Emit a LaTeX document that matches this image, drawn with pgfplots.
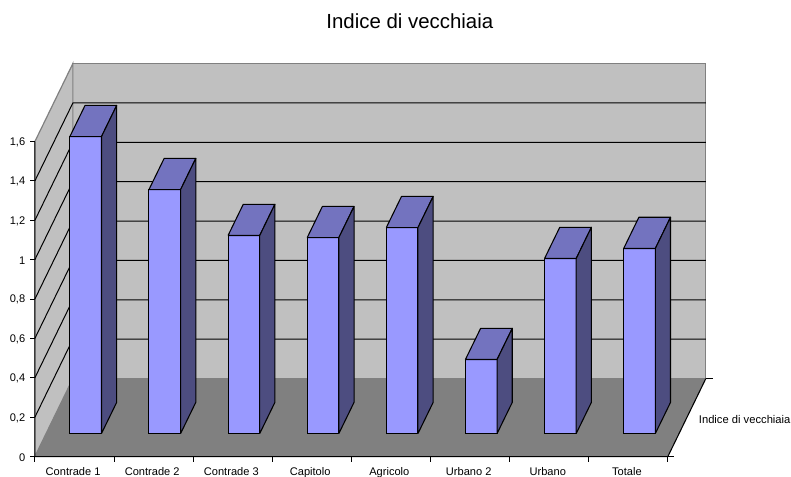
\documentclass[border=0pt]{standalone}
\usepackage{pgfplots}
\pgfplotsset{compat=1.18}
\usepackage{fontspec}
\setmainfont{Liberation Sans}
\definecolor{barfront}{HTML}{9999FF}
\definecolor{bartop}{HTML}{7373BF}
\definecolor{barside}{HTML}{4D4D80}
\definecolor{wall}{HTML}{C0C0C0}
\definecolor{floorc}{HTML}{808080}
% x0, x1, value
\newcommand{\barbox}[3]{%
  \addplot3[draw=black,line width=0.8pt,fill=barfront,line join=round] coordinates {(#1,0.295,0) (#2,0.295,0) (#2,0.295,#3) (#1,0.295,#3) (#1,0.295,0)};
  \addplot3[draw=black,line width=0.8pt,fill=bartop,line join=round] coordinates {(#1,0.295,#3) (#2,0.295,#3) (#2,0.695,#3) (#1,0.695,#3) (#1,0.295,#3)};
  \addplot3[draw=black,line width=0.8pt,fill=barside,line join=round] coordinates {(#2,0.295,0) (#2,0.695,0) (#2,0.695,#3) (#2,0.295,#3) (#2,0.295,0)};
}
\begin{document}
\begin{tikzpicture}[x=0.75pt,y=0.75pt]
\path[use as bounding box] (0,0) rectangle (791,477);
\begin{axis}[
  at={(31.5,26.2)},anchor=origin,
  x={(59.34pt,0pt)},y={(28.5pt,58.5pt)},z={(0pt,147.66pt)},
  xmin=0,xmax=8,ymin=0,ymax=1,zmin=0,zmax=1.6,
  clip=false,
  axis line style={draw=none},
  tick style={draw=none},
  cycle list={{black}},
  no markers,
  xtick={0.5,1.5,2.5,3.5,4.5,5.5,6.5,7.5},
  xticklabels={Contrade 1,Contrade 2,Contrade 3,Capitolo,Agricolo,Urbano 2,Urbano,Totale},
  ytick={0.5},
  yticklabels={Indice di vecchiaia},
  ztick={0,0.2,0.4,0.6,0.8,1,1.2,1.4,1.6},
  xticklabel pos=lower,
  yticklabel pos=lower,
  zticklabel pos=left,
  /pgf/number format/assume math mode=true,
  /pgf/number format/use comma,
  tick label style={font=\fontsize{8.3}{10}\selectfont},
  xticklabel style={xshift=0.5pt,yshift=-5pt},
  yticklabel style={font=\fontsize{8.4}{10}\selectfont,xshift=15.75pt,yshift=25.9pt},
  zticklabel style={anchor=east,xshift=-3.75pt,yshift=-0.5pt},
  title={Indice di vecchiaia},
  title style={font=\fontsize{15.3}{18}\selectfont,xshift=29.6pt,yshift=16.4pt},
]
% walls and floor
\addplot3[draw=floorc,line width=0.9pt,fill=wall] coordinates {(0,1,0) (8,1,0) (8,1,1.6) (0,1,1.6) (0,1,0)};
\addplot3[draw=floorc,line width=0.9pt,fill=wall] coordinates {(0,0,0) (0,1,0) (0,1,1.6) (0,0,1.6) (0,0,0)};
\addplot3[draw=none,fill=floorc] coordinates {(0,0,0) (8,0,0) (8,1,0) (0,1,0) (0,0,0)};
% grid
\pgfplotsinvokeforeach{0.2,0.4,0.6,0.8,1,1.2,1.4}{
  \addplot3[black,line width=0.75pt] coordinates {(0,0,#1) (0,1,#1) (8,1,#1)};
}
\barbox{0.3}{0.7}{1.508}
\barbox{1.3}{1.7}{1.239}
\barbox{2.3}{2.7}{1.006}
\barbox{3.3}{3.7}{0.995}
\barbox{4.3}{4.7}{1.046}
\barbox{5.3}{5.7}{0.376}
\barbox{6.3}{6.7}{0.889}
\barbox{7.3}{7.7}{0.940}
% axis lines
\addplot3[black,line width=0.8pt] coordinates {(0,0,1.6) (0,0,0) (8,0,0) (8,1,0)};
\pgfplotsinvokeforeach{0,0.2,0.4,0.6,0.8,1,1.2,1.4,1.6}{
  \draw[black,line width=0.7pt] (axis cs:0,0,#1) -- ++(-3.75pt,0pt);
}
\pgfplotsinvokeforeach{0,1,2,3,4,5,6,7,8}{
  \draw[black,line width=0.7pt] (axis cs:#1,0,0) -- ++(0pt,-3.75pt);
}
\draw[black,line width=0.7pt] (axis cs:8,0,0) -- ++(4.5pt,0pt);
\draw[black,line width=0.7pt] (axis cs:8,1,0) -- ++(5.2pt,0pt);
\end{axis}
\end{tikzpicture}
\end{document}
